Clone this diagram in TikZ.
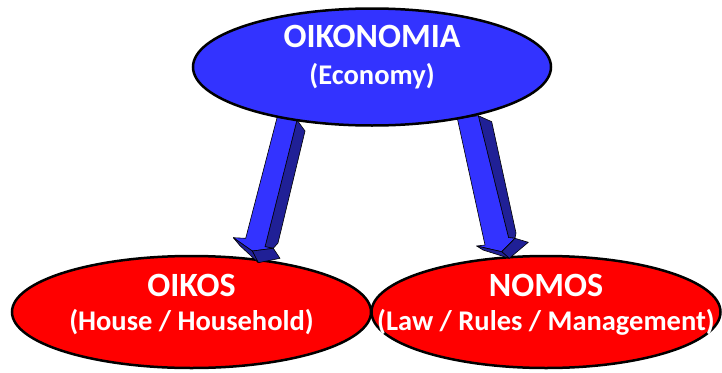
\documentclass[tikz,border=0pt]{standalone}
\usepackage{fontspec}
\setmainfont{Carlito}
\usetikzlibrary{shapes.geometric}
\definecolor{ecoblue}{RGB}{51,51,255}
\definecolor{sideblue}{RGB}{32,32,150}
\definecolor{wordred}{RGB}{255,0,0}

\begin{document}
\begin{tikzpicture}[
			x=1pt, y=-1pt,
			word/.style = {draw, ellipse, line width=2.5pt, inner sep=0pt},
			caption/.style = {text=white, align=center, inner sep=0pt,
				font=\bfseries\fontsize{28.5}{34}\selectfont},
			front/.style = {fill=ecoblue, draw, line width=.6pt, line join=round},
			side/.style = {fill=sideblue, draw, line width=.6pt, line join=round}
		]
		\useasboundingbox (0,0) rectangle (722,372);
		% Level 1.
		\node[word, fill=wordred, minimum width=359pt, minimum height=112pt,
			label={[caption, yshift=7pt]center:{{\fontsize{34}{34}\selectfont OIKOS}\\(House / Household)}}]
			(oikos) at (191.5,312) {};
		\node[word, fill=wordred, minimum width=349pt, minimum height=112pt,
			label={[caption, yshift=7pt]center:{{\fontsize{34}{34}\selectfont NOMOS}\\(Law / Rules / Management)}}]
			(nomos) at (546,312) {};
		% Arrows.
		\filldraw[side] (297,120) -- (305,131) -- (278,243) -- (273.3,248.3) -- (265,246.7) -- cycle;
		\filldraw[front] (278,114) -- (297,120) -- (265,246.7) -- (273.3,248.3) -- (252.3,251)
			-- (233.3,237.7) -- (245.7,238.3) -- cycle;
		\filldraw[side] (252.3,251) -- (273.3,248.3) -- (280,258.3) -- (258.3,262.7) -- cycle;
		\filldraw[side] (233.3,237.7) -- (252.3,251) -- (258.3,262.7) -- (240,245.7) -- cycle;
		\filldraw[side] (478.3,115.7) -- (491.7,121.7) -- (516,233) -- (515,238.3) -- (508.5,237.5) -- cycle;
		\filldraw[front] (457.3,118.3) -- (478.3,115.7) -- (508.5,237.5) -- (515,238.3) -- (501.7,251.7)
			-- (476.7,246) -- (485,245) -- cycle;
		\filldraw[side] (501.7,251.7) -- (515,238.3) -- (528.3,242.3) -- (509.3,258.3) -- cycle;
		\filldraw[side] (476.7,246) -- (501.7,251.7) -- (509.3,258.3) -- (483,250) -- cycle;
		% Root.
		\node[word, fill=ecoblue, minimum width=358pt, minimum height=117pt,
			label={[caption, yshift=9.5pt, font=\bfseries\fontsize{28.5}{37}\selectfont]center:{{\fontsize{34}{34}\selectfont OIKONOMIA}\\(Economy)}}]
			(eco) at (372,67) {};
	\end{tikzpicture}
\end{document}
